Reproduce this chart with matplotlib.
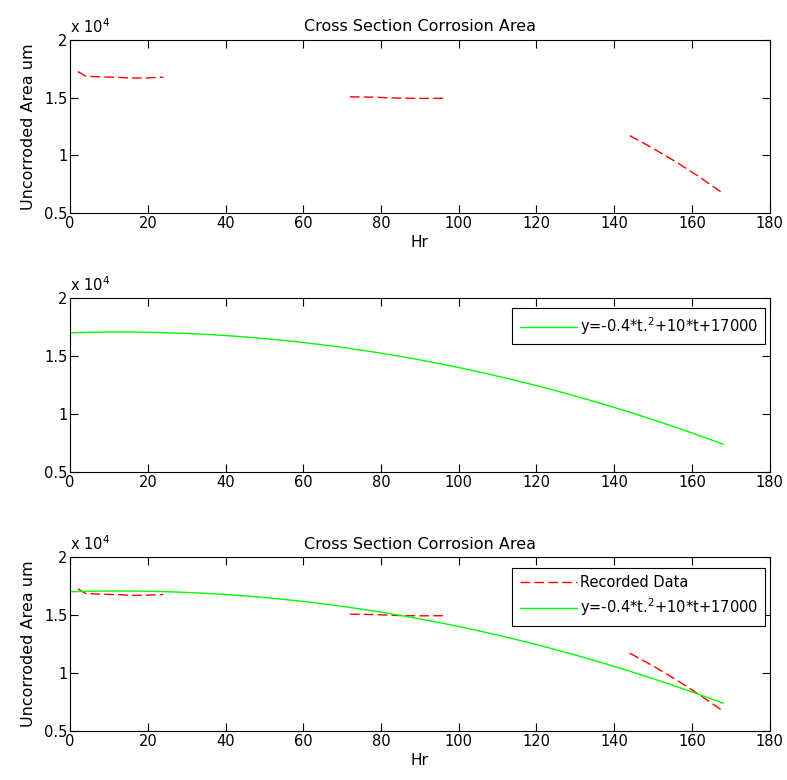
import numpy as np
import matplotlib
matplotlib.use('agg')
import matplotlib.pyplot as plt

plt.rcParams['font.family'] = ['DejaVu Sans']
plt.rcParams['font.size'] = 10.5
plt.rcParams['mathtext.fontset'] = 'dejavusans'

# recorded data (three measuring windows)
t_rec1 = [2, 4, 8, 12, 16, 20, 24]
a_rec1 = [17250, 16850, 16780, 16750, 16680, 16700, 16760]
t_rec2 = [72, 78, 84, 90, 96]
a_rec2 = [15060, 15030, 14950, 14920, 14930]
t_rec3 = [144, 150, 156, 162, 168]
a_rec3 = [11700, 10600, 9400, 8100, 6700]

# fitted curve y=-0.4*t.^2+10*t+17000 (values read every 6 h)
t_fit = [0, 6, 12, 18, 24, 30, 36, 42, 48, 54, 60, 66, 72, 78, 84, 90,
         96, 102, 108, 114, 120, 126, 132, 138, 144, 150, 156, 162, 168]
a_fit = [17000, 17046, 17062, 17050, 17010, 16940, 16842, 16714, 16558,
         16374, 16160, 15918, 15646, 15346, 15018, 14660, 14274, 13858,
         13414, 12942, 12440, 11910, 11350, 10762, 10146, 9500, 8826,
         8122, 7390]

xticks = [0, 20, 40, 60, 80, 100, 120, 140, 160, 180]
yticks = [5000, 10000, 15000, 20000]
ytick_labels = ['0.5', '1', '1.5', '2']
fit_label = r'y=-0.4*t.$^{2}$+10*t+17000'

RED = (1, 0, 0)
GREEN = (0, 1, 0)
DASH = (7, 3)

fig = plt.figure(figsize=(7.87, 7.8), dpi=100)
fig.patch.set_facecolor('white')

def style(ax):
    ax.set_xlim(0, 180)
    ax.set_ylim(5000, 20000)
    ax.set_xticks(xticks)
    ax.set_yticks(yticks)
    ax.set_yticklabels(ytick_labels)
    ax.tick_params(direction='in', top=True, right=True, length=5.5, width=0.8,
                   labelsize=10.5, pad=2)
    for s in ax.spines.values():
        s.set_linewidth(0.8)
    ax.text(0.0, 1.02, r'x 10$^{4}$', transform=ax.transAxes, fontsize=10.5,
            ha='left', va='bottom')

def add_legend(ax, top):
    leg = ax.legend(loc='upper right', bbox_to_anchor=(0.994, top), borderaxespad=0,
                    fancybox=False, edgecolor='black', fontsize=10.5,
                    handlelength=3.9, handletextpad=0.25, borderpad=0.5,
                    labelspacing=0.45, framealpha=1)
    leg.get_frame().set_linewidth(0.8)

def plot_recorded(ax, label=None):
    ax.plot(t_rec1, a_rec1, color=RED, ls='--', dashes=DASH, lw=1, label=label)
    ax.plot(t_rec2, a_rec2, color=RED, ls='--', dashes=DASH, lw=1)
    ax.plot(t_rec3, a_rec3, color=RED, ls='--', dashes=DASH, lw=1)

# top
ax1 = fig.add_axes([0.089, 0.727, 0.889, 0.222])
plot_recorded(ax1)
style(ax1)
ax1.set_title('Cross Section Corrosion Area', fontsize=11.5, pad=6)
ax1.set_xlabel('Hr', fontsize=11, labelpad=3)
ax1.set_ylabel('Uncorroded Area um', fontsize=11.5, labelpad=6)

# middle
ax2 = fig.add_axes([0.089, 0.395, 0.889, 0.223])
ax2.plot(t_fit, a_fit, color=GREEN, lw=1, label=fit_label)
style(ax2)
add_legend(ax2, 0.943)

# bottom
ax3 = fig.add_axes([0.089, 0.063, 0.889, 0.223])
plot_recorded(ax3, 'Recorded Data')
ax3.plot(t_fit, a_fit, color=GREEN, lw=1, label=fit_label)
style(ax3)
ax3.set_title('Cross Section Corrosion Area', fontsize=11.5, pad=6)
ax3.set_xlabel('Hr', fontsize=11, labelpad=3)
ax3.set_ylabel('Uncorroded Area um', fontsize=11.5, labelpad=6)
add_legend(ax3, 0.937)

plt.savefig('out.png', dpi=100, facecolor='white')
plt.close()
